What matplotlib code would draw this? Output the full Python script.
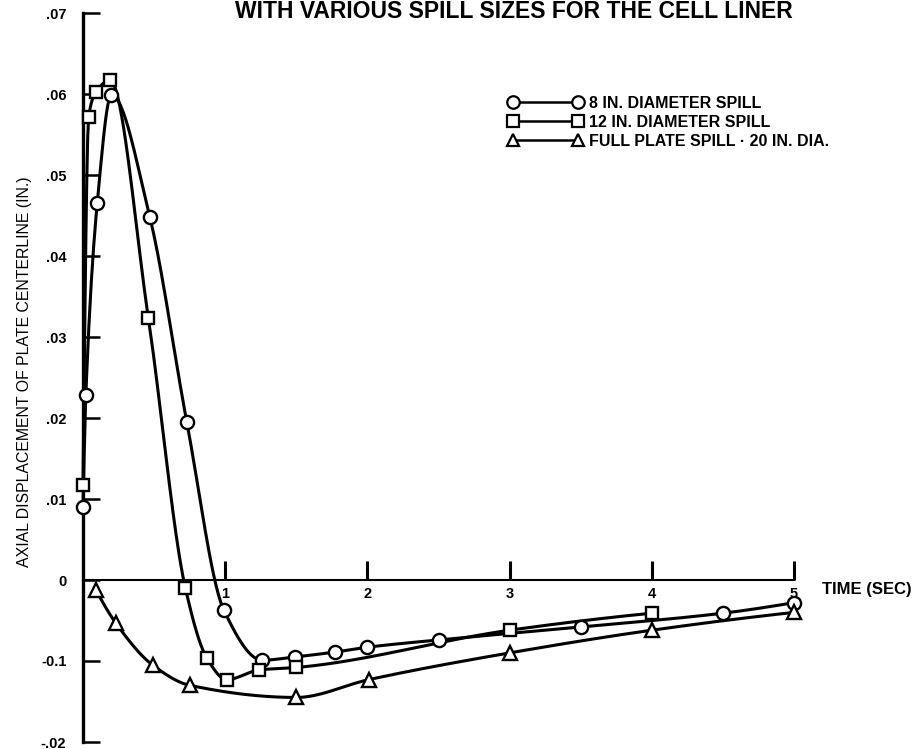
import numpy as np
import matplotlib
matplotlib.use("Agg")
import matplotlib.pyplot as plt
from matplotlib.lines import Line2D

# ---------------- data ----------------
t_8in = [0.0, 0.02, 0.10, 0.20, 0.47, 0.73, 0.99, 1.26, 1.49, 1.77, 2.0, 2.5, 3.5, 4.5, 5.0]
d_8in = [0.0090, 0.0228, 0.0465, 0.0599, 0.0448, 0.0195, -0.0037, -0.0099, -0.0095,
         -0.0089, -0.0083, -0.0074, -0.0058, -0.0041, -0.0028]

t_12in = [0.0, 0.04, 0.09, 0.19, 0.46, 0.72, 0.87, 1.01, 1.24, 1.50, 3.0, 4.0]
d_12in = [0.0117, 0.0572, 0.0602, 0.0617, 0.0323, -0.0010, -0.0096, -0.0123, -0.0111,
          -0.0108, -0.0062, -0.0041]

t_full = [0.09, 0.23, 0.49, 0.75, 1.50, 2.01, 3.0, 4.0, 5.0]
d_full = [-0.0012, -0.0053, -0.0105, -0.0130, -0.0145, -0.0123, -0.0090, -0.0062, -0.0040]

series_labels = ["8 IN. DIAMETER SPILL", "12 IN. DIAMETER SPILL", "FULL PLATE SPILL \u00b7 20 IN. DIA."]

x_ticks = [1, 2, 3, 4, 5]
x_tick_labels = ["1", "2", "3", "4", "5"]
y_ticks = [0.07, 0.06, 0.05, 0.04, 0.03, 0.02, 0.01, 0.0, -0.01, -0.02]
y_tick_labels = [".07", ".06", ".05", ".04", ".03", ".02", ".01", "0", "-0.1", "-.02"]

title = "WITH VARIOUS SPILL SIZES FOR THE CELL LINER"
ylabel = "AXIAL DISPLACEMENT OF PLATE CENTERLINE (IN.)"
xlabel = "TIME (SEC)"


# ---------------- smooth drawing helper (monotone cubic) ----------------
def pchip(x, y, xs):
    x = np.asarray(x, float); y = np.asarray(y, float)
    h = np.diff(x); d = np.diff(y) / h
    n = len(x)
    m = np.zeros(n)
    for k in range(1, n - 1):
        if d[k - 1] * d[k] > 0:
            w1 = 2 * h[k] + h[k - 1]
            w2 = h[k] + 2 * h[k - 1]
            m[k] = (w1 + w2) / (w1 / d[k - 1] + w2 / d[k])
    def endslope(h0, h1, d0, d1):
        s = ((2 * h0 + h1) * d0 - h0 * d1) / (h0 + h1)
        if np.sign(s) != np.sign(d0):
            s = 0.0
        elif np.sign(d0) != np.sign(d1) and abs(s) > abs(3 * d0):
            s = 3 * d0
        return s
    m[0] = endslope(h[0], h[1], d[0], d[1])
    m[-1] = endslope(h[-1], h[-2], d[-1], d[-2])
    idx = np.clip(np.searchsorted(x, xs) - 1, 0, n - 2)
    hh = h[idx]; tt = (xs - x[idx]) / hh
    h00 = 2 * tt**3 - 3 * tt**2 + 1
    h10 = tt**3 - 2 * tt**2 + tt
    h01 = -2 * tt**3 + 3 * tt**2
    h11 = tt**3 - tt**2
    return h00 * y[idx] + h10 * hh * m[idx] + h01 * y[idx + 1] + h11 * hh * m[idx + 1]


fam = ["Liberation Sans", "DejaVu Sans"]
plt.rcParams["font.family"] = fam

fig = plt.figure(figsize=(9.22, 7.49), dpi=100)
ax = fig.add_axes([83 / 922, 1 - 742 / 749, 711 / 922, 729 / 749])
ax.set_xlim(0, 5)
ax.set_ylim(-0.02, 0.07)

lw = 2.2
ms = 9.5
for tx, dy, mk, lab, msz in [(t_8in, d_8in, "o", series_labels[0], ms),
                             (t_12in, d_12in, "s", series_labels[1], ms - 0.5),
                             (t_full, d_full, "^", series_labels[2], ms)]:
    xs = np.linspace(tx[0], tx[-1], 600)
    ax.plot(xs, pchip(tx, dy, xs), color="black", lw=lw, clip_on=False, zorder=2)
    ax.plot(tx, dy, linestyle="none", marker=mk, markersize=msz, markerfacecolor="white",
            markeredgecolor="black", markeredgewidth=1.7, clip_on=False, zorder=3)

# spines
for s in ["top", "right"]:
    ax.spines[s].set_visible(False)
ax.spines["bottom"].set_position(("data", 0))
ax.spines["bottom"].set_linewidth(1.5)
ax.spines["left"].set_linewidth(2.4)

ax.set_xticks(x_ticks)
ax.set_xticklabels(x_tick_labels, fontsize=10.5, fontweight="bold")
ax.tick_params(axis="x", direction="in", length=14, width=2.2, pad=5)
ax.set_yticks(y_ticks)
ax.set_yticklabels(y_tick_labels, fontsize=10.5, fontweight="bold")
ax.tick_params(axis="y", direction="in", length=12, width=1.8, pad=12)

ax.text(5.2, -0.0003, xlabel, transform=ax.transData, fontsize=12, fontweight="bold",
        ha="left", va="top", clip_on=False)

fig.text(514 / 922, 1 - 18 / 749, title, fontsize=16.5, fontweight="bold",
         ha="center", va="baseline")
fig.text(25 / 922, 1 - 372 / 749, ylabel, rotation=90, fontsize=11.4,
         ha="center", va="center")

handles = [Line2D([], [], color="black", lw=1.8, marker=m, markersize=9,
                  markerfacecolor="white", markeredgecolor="black", markeredgewidth=1.6)
           for m in ["o", "s", "^"]]
leg = fig.legend(handles, series_labels, loc="upper left",
                 bbox_to_anchor=(508 / 922, 1 - 96 / 749), frameon=False, numpoints=2,
                 handlelength=4.66, handletextpad=0.4, labelspacing=0.24, borderpad=0,
                 borderaxespad=0,
                 prop={"family": fam, "weight": "bold", "size": 11.5})

fig.savefig("out.png", dpi=100, facecolor="white")
